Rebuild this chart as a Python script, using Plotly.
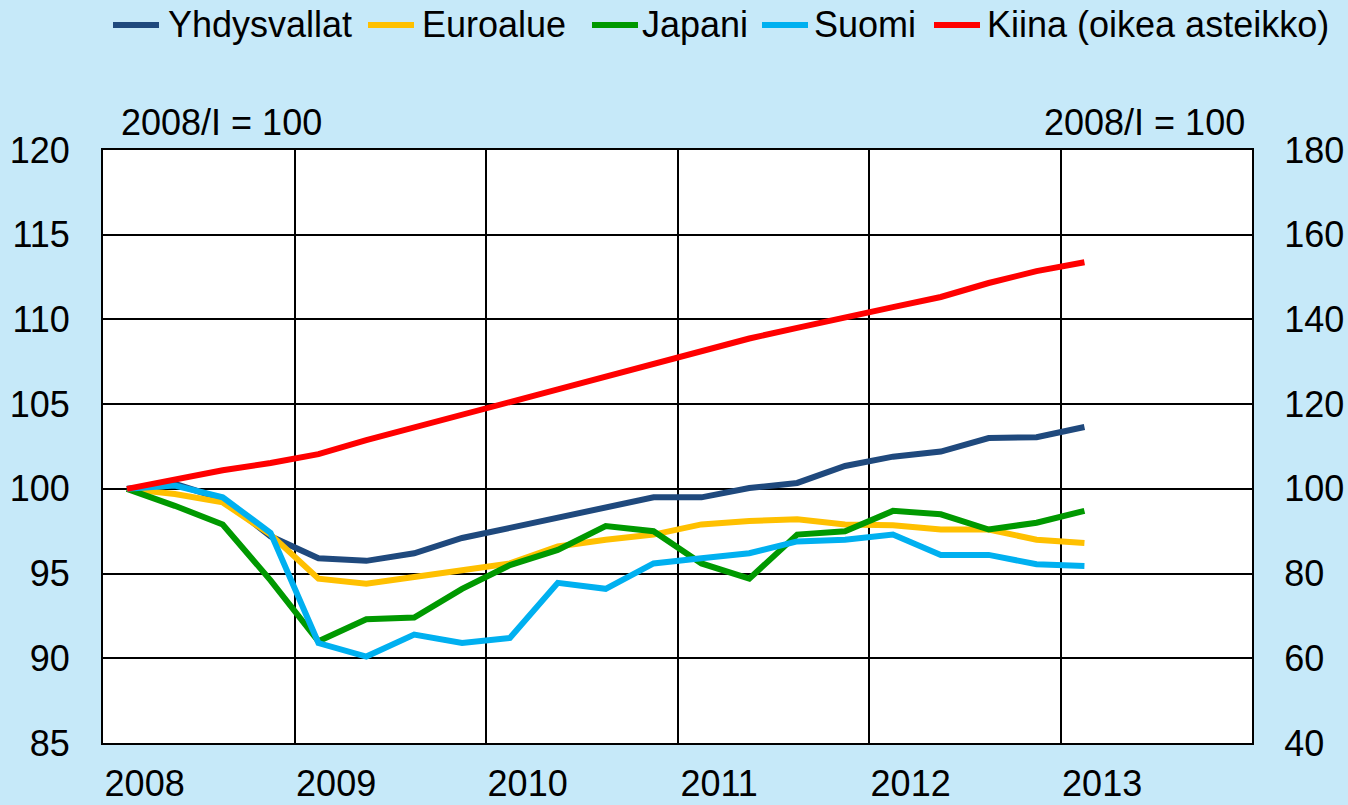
import plotly.graph_objects as go

quarters = [f"{y}/{q}" for y in range(2008, 2014) for q in ["I", "II", "III", "IV"]][:21]
years = ["2008", "2009", "2010", "2011", "2012", "2013"]

yhdysvallat = [100, 100.3, 99.4, 97.2, 95.9, 95.75, 96.2, 97.1, 97.7, 98.3, 98.9,
               99.5, 99.5, 100.05, 100.35, 101.35, 101.9, 102.2, 103.0, 103.05, 103.65]
euroalue = [100, 99.7, 99.2, 97.3, 94.7, 94.4, 94.8, 95.2, 95.6, 96.6, 97.0,
            97.3, 97.9, 98.1, 98.2, 97.9, 97.85, 97.6, 97.6, 97.0, 96.8]
japani = [100, 99.0, 97.9, 94.6, 91.0, 92.3, 92.4, 94.1, 95.5, 96.4, 97.8,
          97.5, 95.6, 94.7, 97.3, 97.5, 98.7, 98.5, 97.6, 98.0, 98.7]
suomi = [100, 100.2, 99.5, 97.4, 90.9, 90.1, 91.4, 90.9, 91.2, 94.45, 94.1,
         95.6, 95.9, 96.2, 96.9, 97.0, 97.3, 96.1, 96.1, 95.55, 95.45]
kiina = [100, 102.3, 104.4, 106.1, 108.2, 111.5, 114.4, 117.4, 120.5, 123.5, 126.5,
         129.5, 132.4, 135.5, 138.0, 140.3, 142.9, 145.3, 148.6, 151.4, 153.5]

names = ["Yhdysvallat", "Euroalue", "Japani", "Suomi", "Kiina (oikea asteikko)"]
colors = ["#1f497d", "#ffc000", "#009900", "#00b0f0", "#ff0000"]
axes = ["y", "y", "y", "y", "y2"]
values = [yhdysvallat, euroalue, japani, suomi, kiina]

xi = list(range(len(quarters)))
FONT = "Liberation Sans, Arial, sans-serif"
BG = "#c6e9f9"
FS = 36

# plot-area geometry in pixels (figure coordinates)
W, H = 1348, 805
L, R, T, B = 103, 1252, 150, 743
pw, ph = R - L, B - T


def px(xp):
    return (xp - L) / pw


def py(yp):
    return (B - yp) / ph


fig = go.Figure()
for name, vals, col, ax in zip(names, values, colors, axes):
    fig.add_trace(go.Scatter(x=xi, y=vals, name=name, mode="lines", yaxis=ax,
                             line=dict(color=col, width=6), hovertext=quarters,
                             showlegend=False))

# manual legend (swatch start px, text start px)
legend_pos = [(113, 166), (368, 420), (592, 640), (762, 812), (934, 985)]
shapes = []
annotations = []
for (sx, tx), name, col in zip(legend_pos, names, colors):
    shapes.append(dict(type="line", xref="paper", yref="paper",
                       x0=px(sx), x1=px(sx + 46), y0=py(25), y1=py(25),
                       line=dict(color=col, width=6)))
    annotations.append(dict(text=name, xref="paper", yref="paper", x=px(tx), y=py(25),
                            xanchor="left", yanchor="middle", showarrow=False,
                            font=dict(size=FS)))

annotations += [
    dict(text="2008/I = 100", xref="paper", yref="paper", x=px(119), y=py(123),
         xanchor="left", yanchor="middle", showarrow=False, font=dict(size=FS)),
    dict(text="2008/I = 100", xref="paper", yref="paper", x=px(1247), y=py(123),
         xanchor="right", yanchor="middle", showarrow=False, font=dict(size=FS)),
]

fig.update_layout(
    width=W, height=H,
    paper_bgcolor=BG, plot_bgcolor="white",
    margin=dict(l=L, r=W - R, t=T, b=H - B, autoexpand=False),
    font=dict(family=FONT, size=FS, color="black"),
    showlegend=False,
    xaxis=dict(range=[-0.5, 23.5], tickvals=[4 * k + 0.37 for k in range(6)], ticktext=years,
               showgrid=False, zeroline=False, ticks="outside", ticklen=8,
               tickcolor="rgba(0,0,0,0)", automargin=False,
               minor=dict(tick0=-0.5, dtick=4, showgrid=True, gridcolor="black", gridwidth=2),
               showline=True, mirror=True, linecolor="black", linewidth=2),
    yaxis=dict(range=[85, 120], dtick=5, showgrid=True, gridcolor="black", gridwidth=2,
               zeroline=False, ticks="outside", ticklen=24, tickcolor="rgba(0,0,0,0)",
               automargin=False,
               showline=True, mirror=True, linecolor="black", linewidth=2),
    yaxis2=dict(range=[40, 180], dtick=20, overlaying="y", side="right", showgrid=False,
                zeroline=False, ticks="outside", ticklen=24, tickcolor="rgba(0,0,0,0)",
                automargin=False, showline=False),
    shapes=shapes,
    annotations=annotations,
)

fig.write_html(
    "out.html",
    config={"displayModeBar": False},
    post_script="document.body.style.margin='0';document.body.style.background='%s';" % BG,
)
